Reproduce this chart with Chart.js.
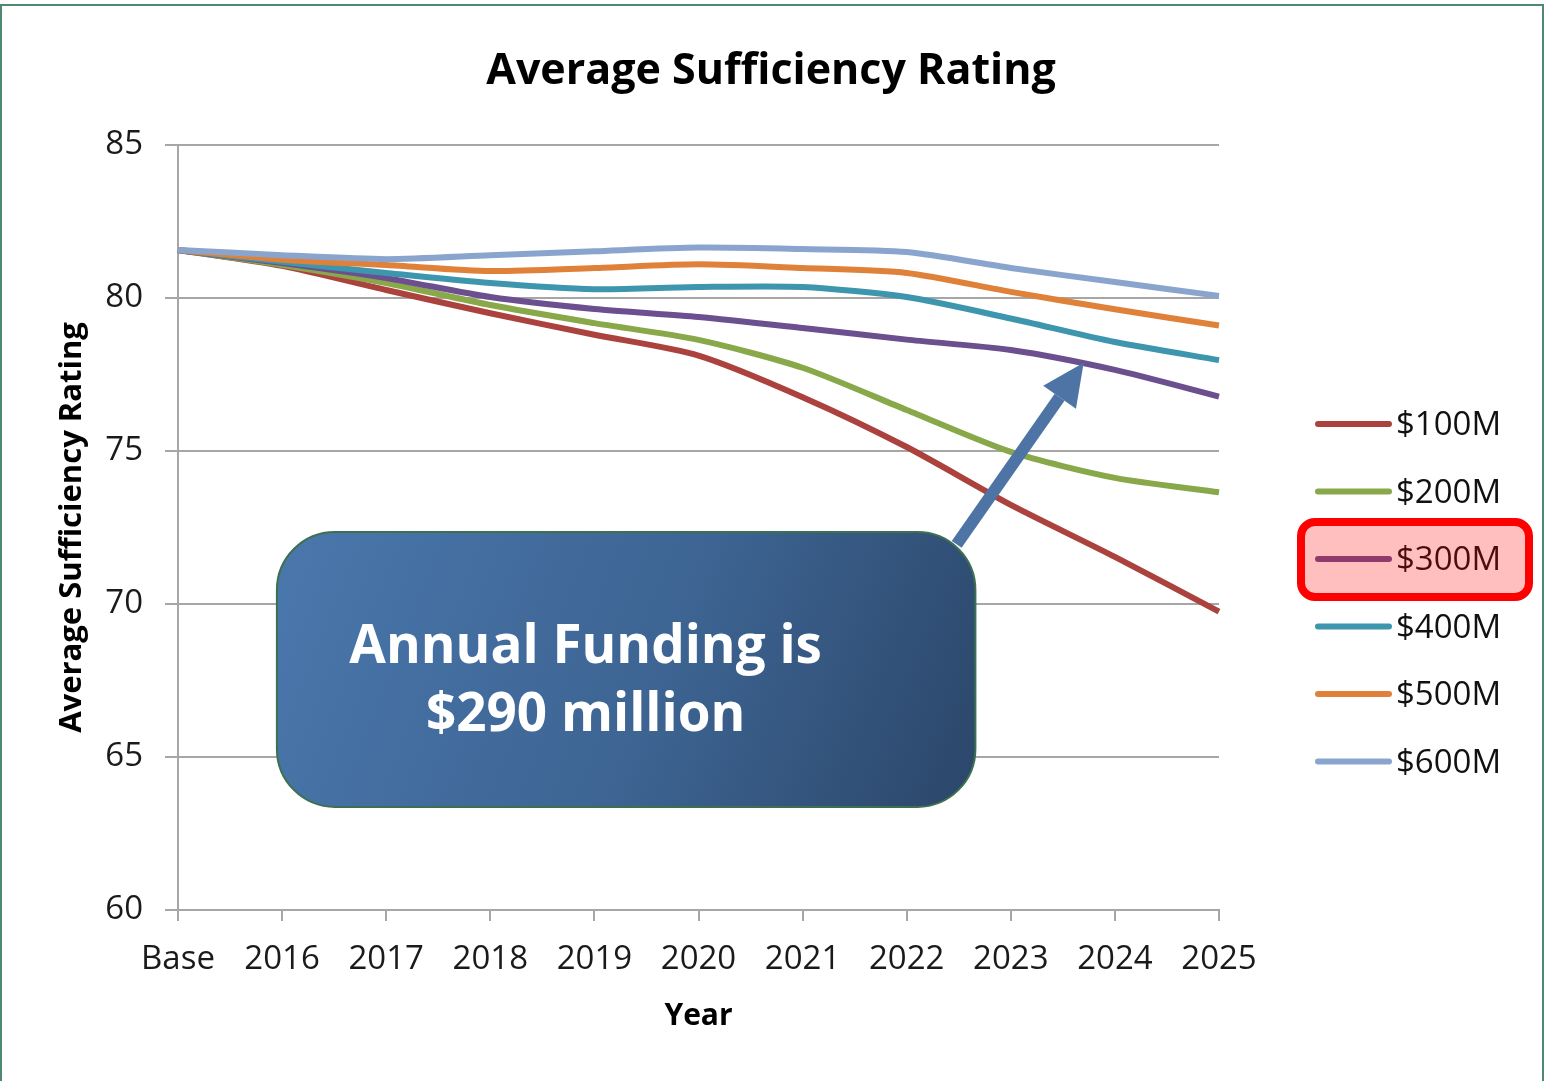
<!DOCTYPE html>
<html>
<head>
<meta charset="utf-8">
<script src="https://cdn.jsdelivr.net/npm/chart.js@4.4.1/dist/chart.umd.min.js"></script>
<style>
  html, body { margin: 0; padding: 0; background: #fff; }
  #wrap { position: relative; width: 1547px; height: 1081px; }
</style>
</head>
<body>
<div id="wrap"><canvas id="chart"></canvas></div>
<script>
// --------------------------------------------------------------------------
// Data
// --------------------------------------------------------------------------
const years = ['Base', '2016', '2017', '2018', '2019', '2020', '2021', '2022', '2023', '2024', '2025'];
const seriesNames = ['$100M', '$200M', '$300M', '$400M', '$500M', '$600M'];

const rating100 = [81.57, 81.05, 80.26, 79.50, 78.80, 78.12, 76.76, 75.13, 73.24, 71.54, 69.75];
const rating200 = [81.57, 81.08, 80.49, 79.77, 79.18, 78.63, 77.72, 76.34, 74.97, 74.12, 73.65];
const rating300 = [81.57, 81.14, 80.65, 80.03, 79.64, 79.38, 79.02, 78.64, 78.30, 77.65, 76.78];
const rating400 = [81.57, 81.18, 80.82, 80.49, 80.29, 80.36, 80.36, 80.03, 79.33, 78.56, 77.97];
const rating500 = [81.57, 81.25, 81.08, 80.88, 80.98, 81.10, 80.98, 80.82, 80.20, 79.63, 79.10];
const rating600 = [81.57, 81.40, 81.27, 81.40, 81.53, 81.65, 81.60, 81.50, 80.98, 80.52, 80.07];

const yTicks = [60, 65, 70, 75, 80, 85];

const chartTitle = 'Average Sufficiency Rating';
const xTitle = 'Year';
const yTitle = 'Average Sufficiency Rating';
const calloutLines = ['Annual Funding is', '$290 million'];
const highlightedSeries = '$300M';

// --------------------------------------------------------------------------
// Styles
// --------------------------------------------------------------------------
const FONT = '"Open Sans", "Noto Sans", sans-serif';
const seriesColors = ['#ab423e', '#88a84a', '#6b4f8f', '#3d96ae', '#e0813a', '#8aa5cd'];
const gridColor = '#a6a6a6';

// callout box + arrow, in data units (category index, rating)
const callout = {
  left: 0.95, right: 7.66, top: 72.35, bottom: 63.37,
  arrowFrom: [7.48, 71.95], arrowTo: [8.70, 77.88]
};

const allSeries = [rating100, rating200, rating300, rating400, rating500, rating600];

// --------------------------------------------------------------------------
// Plugins
// --------------------------------------------------------------------------
const frameAndTitle = {
  id: 'frameAndTitle',
  beforeDraw(chart) {
    const ctx = chart.ctx;
    ctx.save();
    ctx.fillStyle = '#ffffff';
    ctx.fillRect(0, 0, chart.width, chart.height);
    ctx.strokeStyle = '#4f8a70';
    ctx.lineWidth = 2;
    ctx.strokeRect(1, 5, 1542, 1200);
    ctx.fillStyle = '#000';
    ctx.font = `bold 43px ${FONT}`;
    ctx.textAlign = 'center';
    ctx.textBaseline = 'middle';
    ctx.fillText(chartTitle, 771, 72);
    ctx.restore();
  }
};

const calloutPlugin = {
  id: 'calloutPlugin',
  afterDatasetsDraw(chart) {
    const { ctx, scales: { x, y } } = chart;
    const l = x.getPixelForValue(callout.left);
    const r = x.getPixelForValue(callout.right);
    const t = y.getPixelForValue(callout.top);
    const b = y.getPixelForValue(callout.bottom);
    ctx.save();

    // arrow
    const x0 = x.getPixelForValue(callout.arrowFrom[0]);
    const y0 = y.getPixelForValue(callout.arrowFrom[1]);
    const x1 = x.getPixelForValue(callout.arrowTo[0]);
    const y1 = y.getPixelForValue(callout.arrowTo[1]);
    const ang = Math.atan2(y1 - y0, x1 - x0);
    const headLen = 42, headHalf = 20;
    const bx = x1 - Math.cos(ang) * headLen;
    const by = y1 - Math.sin(ang) * headLen;
    ctx.strokeStyle = '#4d74a5';
    ctx.fillStyle = '#4d74a5';
    ctx.lineWidth = 12;
    ctx.beginPath();
    ctx.moveTo(x0, y0);
    ctx.lineTo(bx, by);
    ctx.stroke();
    ctx.beginPath();
    ctx.moveTo(x1, y1);
    ctx.lineTo(bx + Math.sin(ang) * headHalf, by - Math.cos(ang) * headHalf);
    ctx.lineTo(bx - Math.sin(ang) * headHalf, by + Math.cos(ang) * headHalf);
    ctx.closePath();
    ctx.fill();

    // box
    const grad = ctx.createLinearGradient(l, t, r, b);
    grad.addColorStop(0, '#4a77ad');
    grad.addColorStop(0.55, '#3d6492');
    grad.addColorStop(1, '#2b4669');
    ctx.fillStyle = grad;
    ctx.strokeStyle = '#3d7050';
    ctx.lineWidth = 2;
    ctx.beginPath();
    ctx.roundRect(l, t, r - l, b - t, 58);
    ctx.fill();
    ctx.stroke();

    // text
    ctx.fillStyle = '#ffffff';
    ctx.font = `bold 53px ${FONT}`;
    ctx.textAlign = 'center';
    ctx.textBaseline = 'middle';
    const cx = l + (r - l) * 0.442;
    ctx.fillText(calloutLines[0], cx, t + 116);
    ctx.fillText(calloutLines[1], cx, t + 184);
    ctx.restore();
  }
};

const sideLegend = {
  id: 'sideLegend',
  afterDraw(chart) {
    const ctx = chart.ctx;
    ctx.save();
    let hiRow = -1;
    chart.data.datasets.forEach((ds, i) => {
      const rowY = 425 + i * 67.5;
      ctx.strokeStyle = ds.borderColor;
      ctx.lineWidth = 6;
      ctx.lineCap = 'round';
      ctx.beginPath();
      ctx.moveTo(1318, rowY - 1);
      ctx.lineTo(1389, rowY - 1);
      ctx.stroke();
      ctx.fillStyle = '#111';
      ctx.font = `33px ${FONT}`;
      ctx.textAlign = 'left';
      ctx.textBaseline = 'middle';
      ctx.fillText(ds.label, 1396, rowY + 1);
      if (ds.label === highlightedSeries) hiRow = rowY;
    });
    if (hiRow > 0) {
      ctx.fillStyle = 'rgba(255, 0, 0, 0.25)';
      ctx.strokeStyle = '#ff0000';
      ctx.lineWidth = 8;
      ctx.beginPath();
      ctx.roundRect(1301, hiRow - 38, 228, 75, 14);
      ctx.fill();
      ctx.stroke();
    }
    ctx.restore();
  }
};

// --------------------------------------------------------------------------
// Chart
// --------------------------------------------------------------------------
const ctx = document.getElementById('chart').getContext('2d');
new Chart(ctx, {
  type: 'line',
  data: {
    labels: years,
    datasets: allSeries.map((vals, i) => ({
      label: seriesNames[i],
      data: vals,
      borderColor: seriesColors[i],
      backgroundColor: seriesColors[i],
      borderWidth: 6,
      pointRadius: 0,
      tension: 0.25,
      order: allSeries.length - i
    }))
  },
  options: {
    responsive: true,
    maintainAspectRatio: false,
    animation: false,
    devicePixelRatio: 1,
    layout: { padding: { top: 145, right: 328, bottom: 0, left: 0 } },
    plugins: {
      legend: { display: false },
      title: { display: false },
      tooltip: { enabled: false }
    },
    scales: {
      x: {
        type: 'category',
        offset: false,
        afterFit: (s) => { s.height = 171; },
        grid: { display: true, drawOnChartArea: false, drawTicks: true, tickLength: 11, color: gridColor, lineWidth: 2 },
        border: { display: true, color: gridColor, width: 2 },
        ticks: { color: '#1a1a1a', font: { family: FONT, size: 33 }, padding: 19, maxRotation: 0, autoSkip: false },
        title: { display: true, text: xTitle, color: '#000', font: { family: FONT, size: 30, weight: 'bold' }, padding: { top: 0, bottom: 47 } }
      },
      y: {
        min: yTicks[0],
        max: yTicks[yTicks.length - 1],
        afterFit: (s) => { s.width = 178; },
        afterBuildTicks: (s) => { s.ticks = yTicks.map(v => ({ value: v })); },
        grid: { color: gridColor, lineWidth: 2, tickLength: 13 },
        border: { display: true, color: gridColor, width: 2 },
        ticks: { color: '#1a1a1a', font: { family: FONT, size: 33 }, padding: 22 },
        title: { display: true, text: yTitle, color: '#000', font: { family: FONT, size: 31, weight: 'bold' }, padding: { top: 54, bottom: 0 } }
      }
    }
  },
  plugins: [frameAndTitle, calloutPlugin, sideLegend]
});
</script>
</body>
</html>
